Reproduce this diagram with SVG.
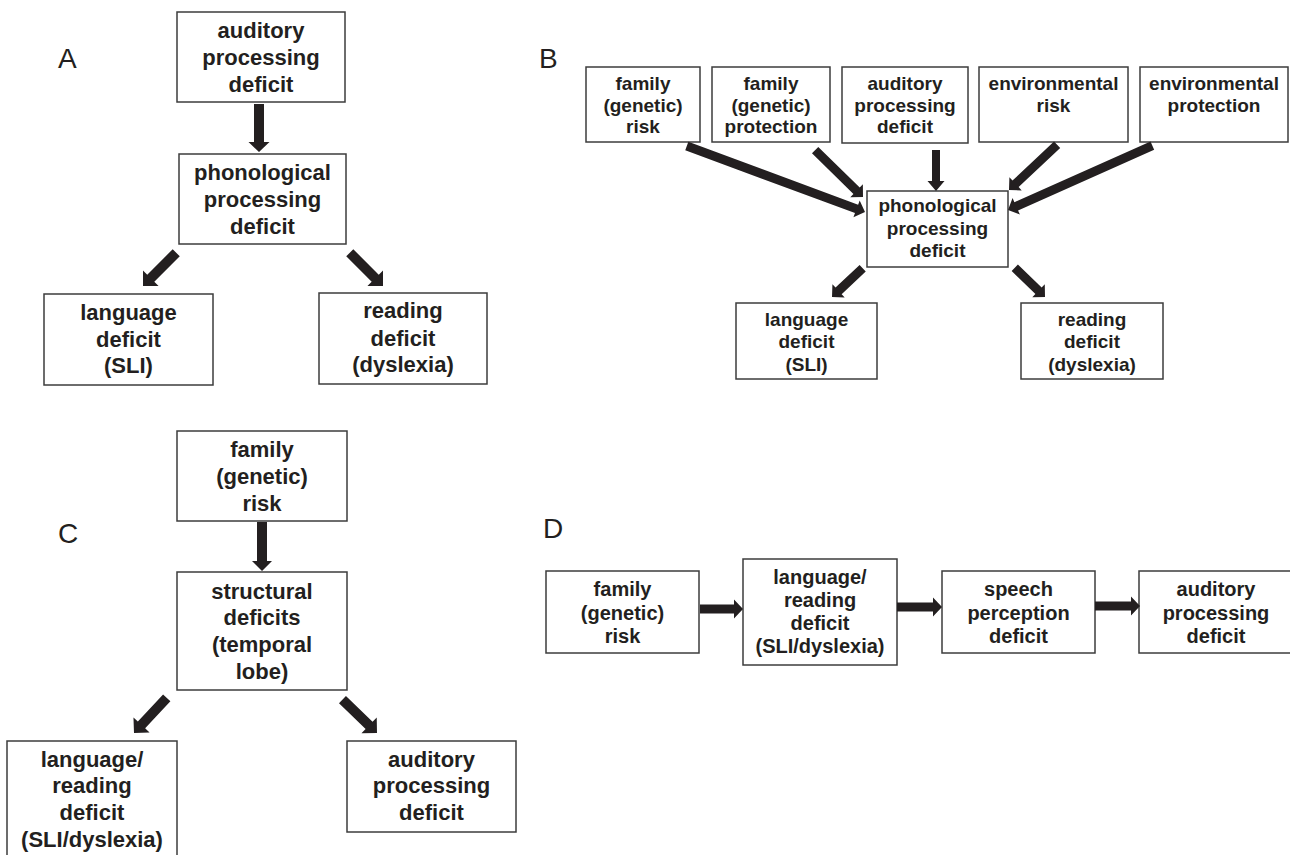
<svg xmlns="http://www.w3.org/2000/svg" width="1290" height="855" viewBox="0 0 1290 855">
<style>
.box{fill:#fff;stroke:#3c3c3c;stroke-width:1.5}
.t{font-family:"Liberation Sans",Arial,sans-serif;font-weight:bold;fill:#231f20;text-anchor:middle}
.a{font-size:22px}
.b{font-size:19px}
.d{font-size:20px}
.lbl{font-family:"Liberation Sans",Arial,sans-serif;font-size:28px;fill:#231f20}
.arr{fill:#231f20}
</style>
<rect width="1290" height="855" fill="#fff"/>

<!-- Panel labels -->
<text class="lbl" x="58" y="68">A</text>
<text class="lbl" x="539" y="68">B</text>
<text class="lbl" x="58" y="543">C</text>
<text class="lbl" x="543" y="538">D</text>

<!-- Panel A -->
<g id="A_auditory"><rect class="box" x="177" y="12" width="168" height="90"/>
<text class="t a" x="261"><tspan x="261" y="38">auditory</tspan><tspan x="261" y="65">processing</tspan><tspan x="261" y="92">deficit</tspan></text></g>
<g id="A_phonological"><rect class="box" x="179" y="154" width="167" height="90"/>
<text class="t a"><tspan x="262.5" y="180">phonological</tspan><tspan x="262.5" y="207">processing</tspan><tspan x="262.5" y="234">deficit</tspan></text></g>
<g id="A_language"><rect class="box" x="44" y="294" width="169" height="91"/>
<text class="t a"><tspan x="128.5" y="320">language</tspan><tspan x="128.5" y="347">deficit</tspan><tspan x="128.5" y="373">(SLI)</tspan></text></g>
<g id="A_reading"><rect class="box" x="319" y="293" width="168" height="91"/>
<text class="t a"><tspan x="403" y="318">reading</tspan><tspan x="403" y="346">deficit</tspan><tspan x="403" y="372">(dyslexia)</tspan></text></g>

<!-- Panel B -->
<g id="B_famrisk"><rect class="box" x="586" y="67" width="114" height="75"/>
<text class="t b"><tspan x="643" y="90">family</tspan><tspan x="643" y="112">(genetic)</tspan><tspan x="643" y="133">risk</tspan></text></g>
<g id="B_famprot"><rect class="box" x="712" y="67" width="118" height="75"/>
<text class="t b"><tspan x="771" y="90">family</tspan><tspan x="771" y="112">(genetic)</tspan><tspan x="771" y="133">protection</tspan></text></g>
<g id="B_auditory"><rect class="box" x="842" y="67" width="126" height="76"/>
<text class="t b"><tspan x="905" y="90">auditory</tspan><tspan x="905" y="112">processing</tspan><tspan x="905" y="133">deficit</tspan></text></g>
<g id="B_envrisk"><rect class="box" x="979" y="67" width="149" height="75"/>
<text class="t b"><tspan x="1053.5" y="90">environmental</tspan><tspan x="1053.5" y="112">risk</tspan></text></g>
<g id="B_envprot"><rect class="box" x="1140" y="67" width="148" height="75"/>
<text class="t b"><tspan x="1214" y="90">environmental</tspan><tspan x="1214" y="112">protection</tspan></text></g>
<g id="B_phonological"><rect class="box" x="867" y="191" width="141" height="76"/>
<text class="t b"><tspan x="937.5" y="212">phonological</tspan><tspan x="937.5" y="235">processing</tspan><tspan x="937.5" y="257">deficit</tspan></text></g>
<g id="B_language"><rect class="box" x="736" y="303" width="141" height="76"/>
<text class="t b"><tspan x="806.5" y="326">language</tspan><tspan x="806.5" y="348">deficit</tspan><tspan x="806.5" y="371">(SLI)</tspan></text></g>
<g id="B_reading"><rect class="box" x="1021" y="303" width="142" height="76"/>
<text class="t b"><tspan x="1092" y="326">reading</tspan><tspan x="1092" y="348">deficit</tspan><tspan x="1092" y="371">(dyslexia)</tspan></text></g>

<!-- Panel C -->
<g id="C_famrisk"><rect class="box" x="177" y="431" width="170" height="90"/>
<text class="t a"><tspan x="262" y="457">family</tspan><tspan x="262" y="484">(genetic)</tspan><tspan x="262" y="511">risk</tspan></text></g>
<g id="C_structural"><rect class="box" x="177" y="572" width="170" height="118"/>
<text class="t a"><tspan x="262" y="599">structural</tspan><tspan x="262" y="625">deficits</tspan><tspan x="262" y="652">(temporal</tspan><tspan x="262" y="679">lobe)</tspan></text></g>
<g id="C_language"><rect class="box" x="7" y="741" width="170" height="125"/>
<text class="t a"><tspan x="92" y="767">language/</tspan><tspan x="92" y="793">reading</tspan><tspan x="92" y="820">deficit</tspan><tspan x="92" y="847">(SLI/dyslexia)</tspan></text></g>
<g id="C_auditory"><rect class="box" x="347" y="741" width="169" height="91"/>
<text class="t a"><tspan x="431.5" y="767">auditory</tspan><tspan x="431.5" y="793">processing</tspan><tspan x="431.5" y="820">deficit</tspan></text></g>

<!-- Panel D -->
<g id="D_famrisk"><rect class="box" x="546" y="571" width="153" height="82"/>
<text class="t d"><tspan x="622.5" y="596">family</tspan><tspan x="622.5" y="620">(genetic)</tspan><tspan x="622.5" y="643">risk</tspan></text></g>
<g id="D_language"><rect class="box" x="743" y="559" width="154" height="106"/>
<text class="t d"><tspan x="820" y="584">language/</tspan><tspan x="820" y="607">reading</tspan><tspan x="820" y="630">deficit</tspan><tspan x="820" y="653">(SLI/dyslexia)</tspan></text></g>
<g id="D_speech"><rect class="box" x="942" y="571" width="153" height="82"/>
<text class="t d"><tspan x="1018.5" y="596">speech</tspan><tspan x="1018.5" y="620">perception</tspan><tspan x="1018.5" y="643">deficit</tspan></text></g>
<g id="D_auditory"><rect class="box" x="1139" y="571" width="154" height="82"/>
<text class="t d"><tspan x="1216" y="596">auditory</tspan><tspan x="1216" y="620">processing</tspan><tspan x="1216" y="643">deficit</tspan></text></g>

<!-- Connectors -->
<g id="connectors" class="arr">
<!-- A -->
<path transform="translate(259,152) rotate(90)" d="M-48,-5 L-10,-5 L-10,-10.5 L0,0 L-10,10.5 L-10,5 L-48,5 Z"/>
<path transform="translate(143,286) rotate(135)" d="M-47,-5 L-11,-5 L-11,-11 L0,0 L-11,11 L-11,5 L-47,5 Z"/>
<path transform="translate(383,286) rotate(45)" d="M-47,-5 L-11,-5 L-11,-11 L0,0 L-11,11 L-11,5 L-47,5 Z"/>
<!-- B -->
<path transform="translate(865,212) rotate(20.3)" d="M-190,-4.5 L-9,-4.5 L-9,-9 L0,0 L-9,9 L-9,4.5 L-190,4.5 Z"/>
<path transform="translate(863,197) rotate(44.4)" d="M-67,-4.5 L-9,-4.5 L-9,-9 L0,0 L-9,9 L-9,4.5 L-67,4.5 Z"/>
<path transform="translate(936,191) rotate(90)" d="M-41,-4 L-10,-4 L-10,-8.5 L0,0 L-10,8.5 L-10,4 L-41,4 Z"/>
<path transform="translate(1009,190) rotate(136.8)" d="M-66,-4.5 L-9,-4.5 L-9,-9 L0,0 L-9,9 L-9,4.5 L-66,4.5 Z"/>
<path transform="translate(1008,210) rotate(156)" d="M-158,-4.5 L-9,-4.5 L-9,-9 L0,0 L-9,9 L-9,4.5 L-158,4.5 Z"/>
<path transform="translate(832,297) rotate(136.9)" d="M-42,-4.5 L-9,-4.5 L-9,-9 L0,0 L-9,9 L-9,4.5 L-42,4.5 Z"/>
<path transform="translate(1045,297) rotate(44)" d="M-42,-4.5 L-9,-4.5 L-9,-9 L0,0 L-9,9 L-9,4.5 L-42,4.5 Z"/>
<!-- C -->
<path transform="translate(262,571) rotate(90)" d="M-49,-5 L-10,-5 L-10,-10 L0,0 L-10,10 L-10,5 L-49,5 Z"/>
<path transform="translate(134,733) rotate(133)" d="M-48,-5 L-11,-5 L-11,-11 L0,0 L-11,11 L-11,5 L-48,5 Z"/>
<path transform="translate(377,733) rotate(44)" d="M-48,-5 L-11,-5 L-11,-11 L0,0 L-11,11 L-11,5 L-48,5 Z"/>
<!-- D -->
<path transform="translate(743,609)" d="M-43,-4.5 L-9,-4.5 L-9,-9.5 L0,0 L-9,9.5 L-9,4.5 L-43,4.5 Z"/>
<path transform="translate(942,607)" d="M-45,-4.5 L-9,-4.5 L-9,-9.5 L0,0 L-9,9.5 L-9,4.5 L-45,4.5 Z"/>
<path transform="translate(1140,606)" d="M-45,-4.5 L-9,-4.5 L-9,-9.5 L0,0 L-9,9.5 L-9,4.5 L-45,4.5 Z"/>
</g>
</svg>
